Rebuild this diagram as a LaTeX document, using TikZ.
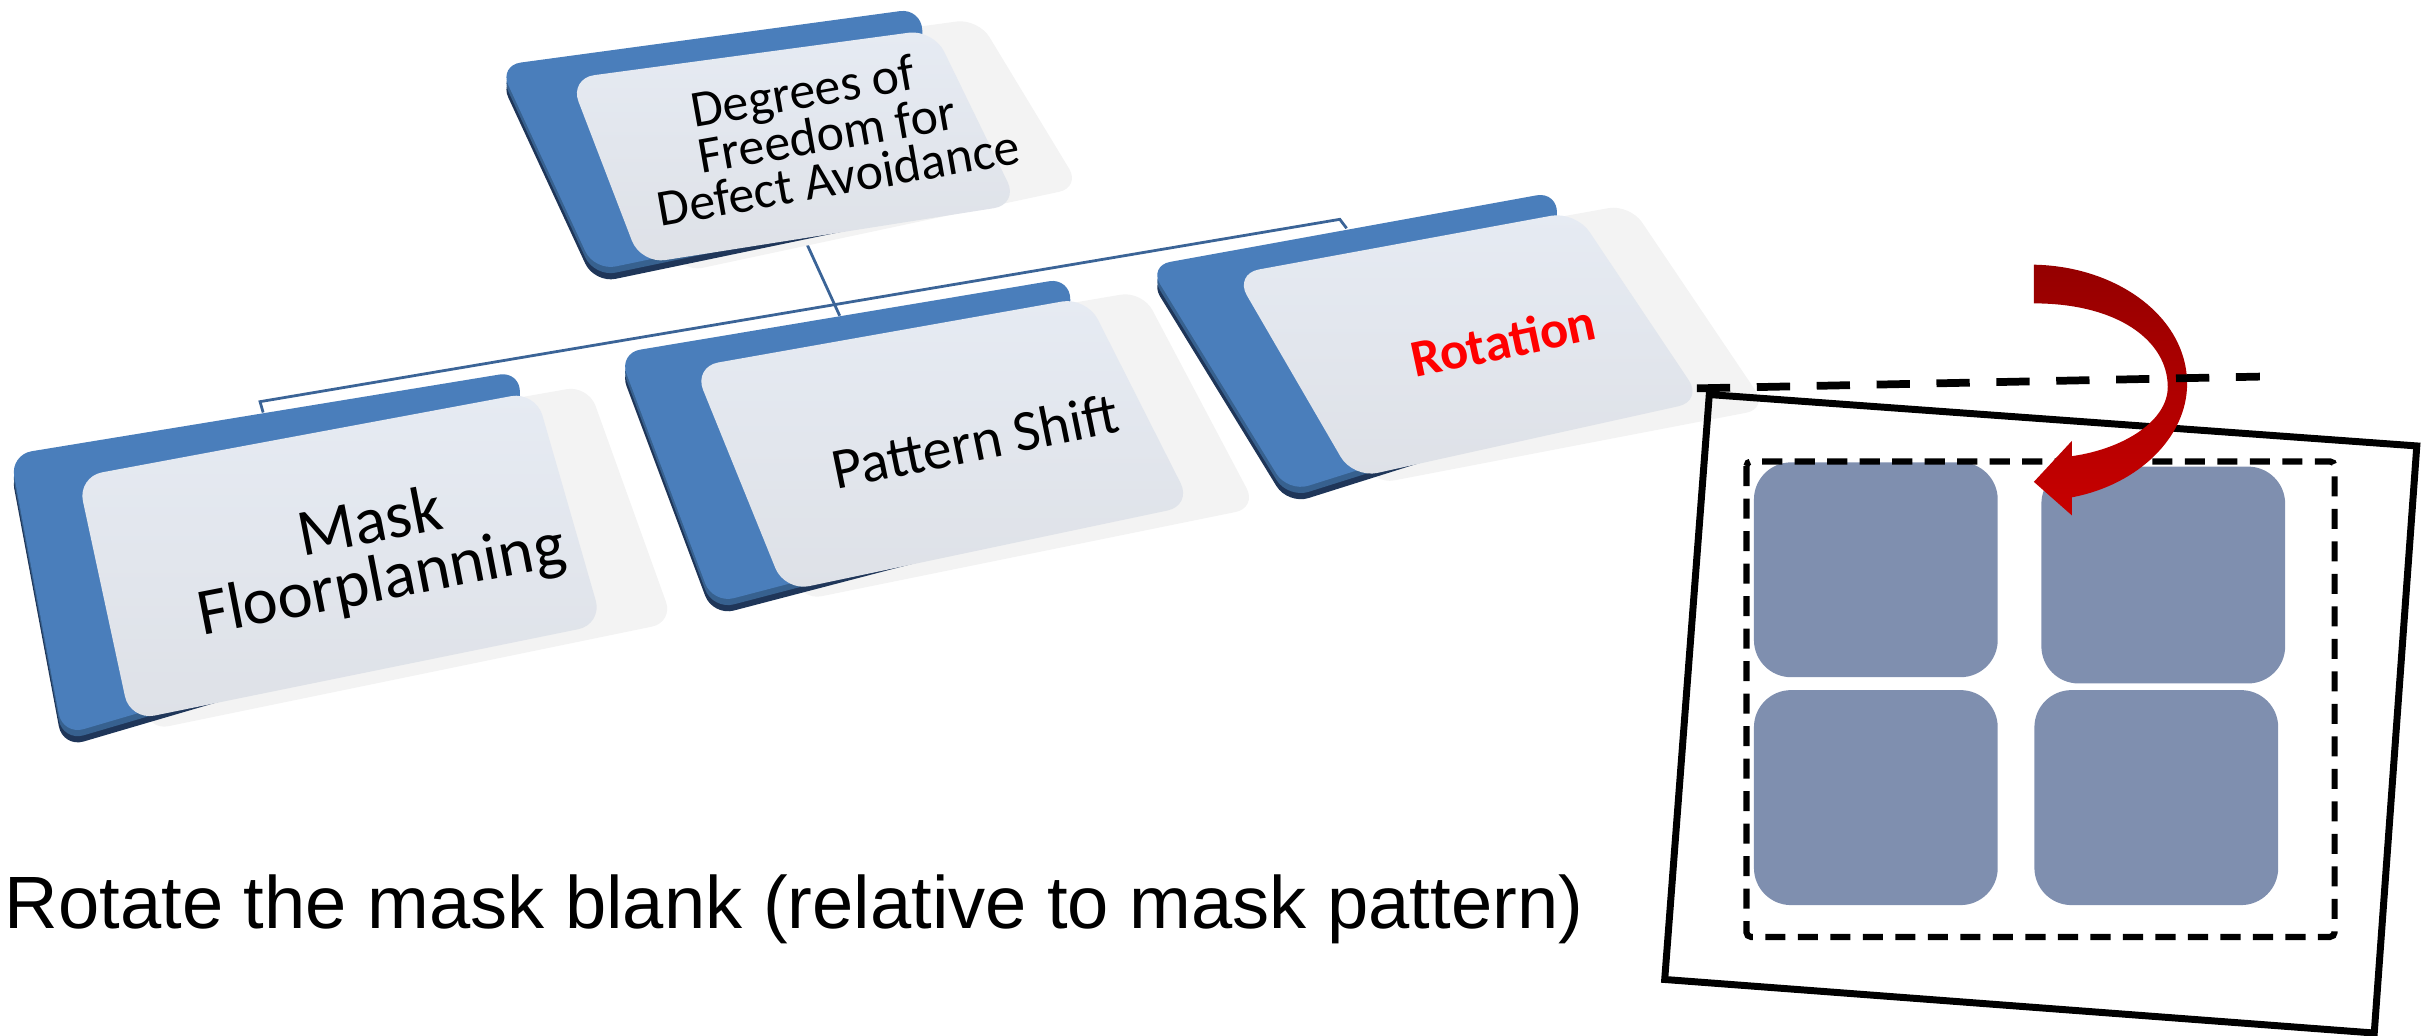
\documentclass[tikz,border=0pt]{standalone}
\usepackage{fontspec}
\setmainfont{Liberation Sans}
\newfontfamily\keyfont{Carlito}

\definecolor{keyblue}{HTML}{4A7EBB}
\definecolor{keymid}{HTML}{37618F}
\definecolor{keydark}{HTML}{1F3659}
\definecolor{facetop}{HTML}{E6EBF3}
\definecolor{facebot}{HTML}{DEE1E7}
\definecolor{ghostgray}{HTML}{F3F3F3}
\definecolor{linkblue}{HTML}{3B6497}
\definecolor{tileblue}{HTML}{7F8FAF}
\definecolor{arrowdark}{HTML}{950000}
\definecolor{arrowmid}{HTML}{A40000}
\definecolor{arrowlight}{HTML}{C80000}
\definecolor{keyred}{HTML}{FF0000}

\begin{document}
\begin{tikzpicture}[x=1pt,y=-1pt,
  keyghost/.style={fill=ghostgray, rounded corners=14pt},
  keyrim/.style={fill=keydark, rounded corners=14pt},
  keybevel/.style={fill=keymid, rounded corners=14pt},
  keybase/.style={fill=keyblue, rounded corners=14pt},
  keyface/.style={top color=facetop, bottom color=facebot, rounded corners=16pt},
  keytext/.style={align=center, inner sep=0pt, text=black},
  link/.style={draw=linkblue, line width=1.8pt},
  blankedge/.style={draw=black, line width=4.5pt, line join=miter},
  guideline/.style={draw=black, line width=5pt, dash pattern=on 21.5pt off 17.2pt},
  framedash/.style={draw=black, line width=4pt, dash pattern=on 13pt off 8pt, rounded corners=3pt},
  tilebox/.style={fill=tileblue, rounded corners=24pt, inner sep=0pt, draw=none},
]
\useasboundingbox (0,0) rectangle (1568,669.3);

% connector tree behind the keys
\coordinate (busL) at (168,259.5);
\coordinate (busLdrop) at (170,266.5);
\coordinate (busR) at (865.6,141.7);
\coordinate (busRdrop) at (870,147.5);
\coordinate (rootdrop) at (521,157);
\coordinate (middrop) at (542.5,204);
\draw[link] (busLdrop) -- (busL) -- (busR) -- (busRdrop);
\draw[link] (rootdrop) -- (middrop);

% root key
\path[keyghost] (390,45) -- (632,12) -- (698,121) -- (440,176) -- cycle;
\path[keyrim, shift={(0,8)}] (322.5,42.3) -- (595.3,5.3) -- (600,130) -- (384,175) -- cycle;
\path[keybevel, shift={(0,4)}] (322.5,42.3) -- (595.3,5.3) -- (600,130) -- (384,175) -- cycle;
\path[keybase] (322.5,42.3) -- (595.3,5.3) -- (600,130) -- (384,175) -- cycle;
\shade[keyface] (368,50.7) -- (603,19) -- (658,132) -- (414,170.5) -- cycle;
\node[keytext, rotate=10, font={\keyfont\fontsize{33.5pt}{29pt}\selectfont}] (root) at (534,86)
  {Degrees of\hspace*{21pt}\\Freedom for\\\hspace*{5pt}Defect Avoidance};

% key: mask floorplanning
\path[keyghost] (90,300) -- (380,249) -- (435,402) -- (95,472) -- cycle;
\path[keyrim, shift={(0,8)}] (6.6,293.8) -- (336.5,239.7) -- (330,390) -- (40.6,475) -- cycle;
\path[keybevel, shift={(0,4)}] (6.6,293.8) -- (336.5,239.7) -- (330,390) -- (40.6,475) -- cycle;
\path[keybase] (6.6,293.8) -- (336.5,239.7) -- (330,390) -- (40.6,475) -- cycle;
\shade[keyface] (50.2,308.1) -- (346,253) -- (389.3,403.3) -- (84.1,465.5) -- cycle;
\node[keytext, rotate=11, font={\keyfont\fontsize{43pt}{38pt}\selectfont}] (floor) at (243,358)
  {Mask\\Floorplanning};

% key: pattern shift
\path[keyghost] (480,232) -- (738,188) -- (812,328) -- (517,388) -- cycle;
\path[keyrim, shift={(0,8)}] (399.8,228.2) -- (691.6,179.4) -- (690,330) -- (460.5,390) -- cycle;
\path[keybevel, shift={(0,4)}] (399.8,228.2) -- (691.6,179.4) -- (690,330) -- (460.5,390) -- cycle;
\path[keybase] (399.8,228.2) -- (691.6,179.4) -- (690,330) -- (460.5,390) -- cycle;
\shade[keyface] (448.2,237) -- (702,192) -- (770,326.5) -- (507,382) -- cycle;
\node[keytext, rotate=11.5, font={\keyfont\fontsize{37.5pt}{40pt}\selectfont}] (shift) at (630,285)
  {Pattern Shift};

% key: rotation
\path[keyghost] (830,172) -- (1053,132) -- (1142,264) -- (887,313) -- cycle;
\path[keyrim, shift={(0,8)}] (742.2,171.7) -- (1006.5,123.7) -- (1000,265) -- (832,318) -- cycle;
\path[keybevel, shift={(0,4)}] (742.2,171.7) -- (1006.5,123.7) -- (1000,265) -- (832,318) -- cycle;
\path[keybase] (742.2,171.7) -- (1006.5,123.7) -- (1000,265) -- (832,318) -- cycle;
\shade[keyface] (797.5,177) -- (1018,136.5) -- (1100,259) -- (874.2,309) -- cycle;
\node[keytext, rotate=12, text=keyred, font={\keyfont\bfseries\fontsize{34pt}{36pt}\selectfont}] (rot) at (971,220)
  {Rotation};

% caption
\node[anchor=base west, inner sep=0pt, font=\fontsize{47.9pt}{57pt}\selectfont] (caption) at (3,599.6)
  {Rotate the mask blank (relative to mask pattern)};

% rotated mask blank
\coordinate (bTL) at (1104.3,254.9);
\coordinate (bTR) at (1561.4,288.1);
\coordinate (bBR) at (1533.9,667.4);
\coordinate (bBL) at (1075.5,632.8);
\draw[blankedge] (bTL) -- (bTR) -- (bBR) -- (bBL) -- cycle;

% pattern tiles
\node[tilebox, minimum width=157.5pt, minimum height=138.8pt] (tileA) at (1211.9,368.1) {};
\node[tilebox, minimum width=157.5pt, minimum height=140.1pt] (tileB) at (1397.6,371.5) {};
\node[tilebox, minimum width=157.5pt, minimum height=138.9pt] (tileC) at (1211.9,515.3) {};
\node[tilebox, minimum width=157.5pt, minimum height=138.9pt] (tileD) at (1393.1,515.3) {};

% pattern frame
\draw[framedash] (1128.3,298.1) rectangle (1508.3,605.3);

% curved rotation arrow
\shade[top color=arrowdark, middle color=arrowmid, bottom color=arrowlight]
  (1314,171) .. controls (1368,172) and (1413,205) .. (1413,248)
  .. controls (1413,282) and (1382,313) .. (1338.6,321.3)
  -- (1338.6,333) -- (1314,311.3) -- (1338.6,284.8) -- (1338.6,294.7)
  .. controls (1372,290) and (1400.5,272) .. (1400.5,250)
  .. controls (1400.5,220) and (1368,196) .. (1314,196) -- cycle;

% reference line of the unrotated blank
\coordinate (dashL) at (1096.3,250.9);
\coordinate (dashR) at (1460,243.3);
\draw[guideline] (dashL) -- (dashR);
\end{tikzpicture}
\end{document}
